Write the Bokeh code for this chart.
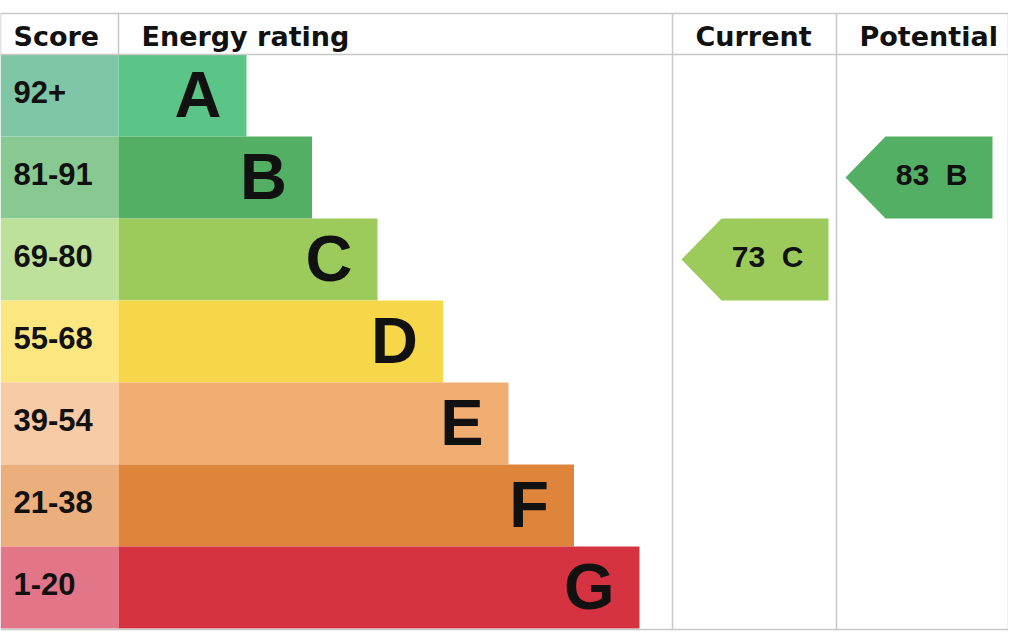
from bokeh.plotting import figure
from bokeh.models import Range1d
from bokeh.embed import file_html
from bokeh.resources import INLINE
from bokeh.core.properties import value

# data
bands = ["A", "B", "C", "D", "E", "F", "G"]
score_labels = ["92+", "81-91", "69-80", "55-68", "39-54", "21-38", "1-20"]
band_min = [92, 81, 69, 55, 39, 21, 1]
bar_colors = ["#5ac587", "#53af63", "#9ccb5b", "#f7d74a", "#f0ae72", "#df843b", "#d53342"]
score_colors = ["#7ec6a6", "#88c991", "#bde19a", "#fce680", "#f6cba6", "#eaaf7c", "#e27688"]
headers = ["Score", "Energy rating", "Current", "Potential"]
current_score = 73
potential_score = 83

# layout in pixels
col_edges = [1, 119, 673, 837, 1009]
top, head_bottom, row_h = 13, 54, 82
bar_first, bar_step = 247, 65.5
arrow_w, arrow_tip = 147, 40
grid_color = "#c8c8c8"


def band_index(score):
    for i, m in enumerate(band_min):
        if score >= m:
            return i
    return len(band_min) - 1


p = figure(width=1008, height=632, output_backend="svg", toolbar_location=None,
           tools="", x_range=Range1d(1, 1009), y_range=Range1d(632, 0),
           min_border=0)
p.axis.visible = False
p.grid.visible = False
p.outline_line_color = None
p.background_fill_color = "white"

n = len(bands)
row_top = [head_bottom + i * row_h for i in range(n)]
row_mid = [t + row_h / 2 for t in row_top]
bar_end = [bar_first + i * bar_step for i in range(n)]

# score cells and bars
p.quad(left=col_edges[0], right=col_edges[1], top=row_top,
       bottom=[t + row_h for t in row_top], fill_color=score_colors, line_color=None)
p.quad(left=col_edges[1], right=bar_end, top=row_top,
       bottom=[t + row_h for t in row_top], fill_color=bar_colors, line_color=None)

# grid lines
bottom = head_bottom + n * row_h + 1
p.segment(x0=[col_edges[0]] * 3, x1=[col_edges[-1]] * 3, y0=[top, head_bottom, bottom],
          y1=[top, head_bottom, bottom], line_color=grid_color, line_width=1.5)
p.segment(x0=col_edges[:2], x1=col_edges[:2], y0=[top] * 2, y1=[head_bottom] * 2,
          line_color=grid_color, line_width=1.5)
p.segment(x0=col_edges[2:], x1=col_edges[2:], y0=[top] * 3, y1=[bottom] * 3,
          line_color=grid_color, line_width=1.5)

# header texts
head_x = [col_edges[0] + 13] + [c + 23 for c in col_edges[1:4]]
p.text(x=head_x, y=[46] * 4, y_offset=-10, text=headers, text_font=value("DejaVu Sans"),
       text_font_style="bold", text_font_size="27px", text_baseline="alphabetic",
       text_color="#111111")

# score labels
p.text(x=[14] * n, y=row_mid, y_offset=-4, text=score_labels,
       text_font=value("Liberation Sans"), text_font_style="bold",
       text_font_size="31px", text_baseline="alphabetic", text_color="#111111")

# band letters
p.text(x=[e - 25 for e in bar_end], y=row_mid, y_offset=-1, text=bands,
       text_font=value("Liberation Sans"), text_font_style="bold",
       text_font_size="65px", text_baseline="alphabetic", text_align="right",
       text_color="#111111")

# current / potential arrows
for col, score in ((2, current_score), (3, potential_score)):
    i = band_index(score)
    t, b, m = row_top[i], row_top[i] + row_h, row_mid[i]
    tip = col_edges[col] + 9
    end = tip + arrow_w
    p.patch(x=[tip, tip + arrow_tip, end, end, tip + arrow_tip],
            y=[m, t, t, b, b], fill_color=bar_colors[i], line_color=None)
    p.text(x=[end - 25], y=[m], y_offset=-3, text=[f"{score}\u00a0 {bands[i]}"],
           text_font=value("Liberation Sans"), text_font_style="bold",
           text_font_size="30px", text_baseline="alphabetic", text_align="right",
           text_color="#111111")

open("out.html", "w").write(file_html(p, INLINE))
